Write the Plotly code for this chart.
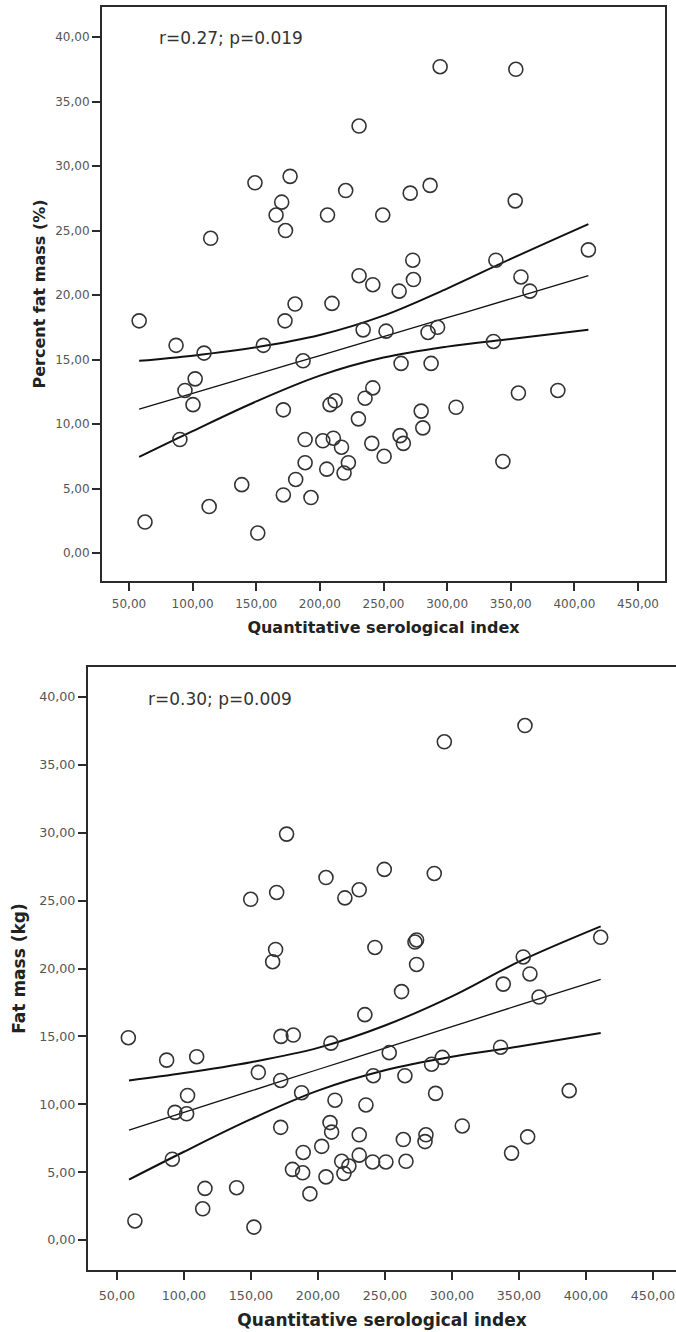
import plotly.graph_objects as go

# ---------------- data: top panel (Percent fat mass) ----------------
qsi_pct = [58, 62.6, 87, 90, 94, 102, 100.3, 109, 113, 114.2, 138.6, 151.2, 155.6, 149,
           165.6, 170, 173, 176.6, 172.6, 180.5, 206, 171.3, 186.8, 188.4, 188.4, 181,
           171.3, 193, 202.3, 210.6, 205.4, 208, 212, 217, 222.4, 219, 230.3, 235.5,
           241.6, 240.8, 250.5, 263, 265.6, 263.8, 287.4, 279.6, 280.9, 307, 343.8, 356,
           387, 336.4, 234, 252, 285, 292.5, 294.5, 354, 230.8, 220.3, 271, 286.6, 353.5,
           249.4, 273, 230.8, 241.6, 262.3, 273.5, 209.5, 338.3, 411, 358, 365]
pct_fat = [18.0, 2.4, 16.1, 8.8, 12.6, 13.5, 11.5, 15.5, 3.6, 24.4, 5.3, 1.55, 16.1, 28.7,
           26.2, 27.2, 25.0, 29.2, 18.0, 19.3, 26.2, 11.1, 14.9, 8.8, 7.0, 5.7,
           4.5, 4.3, 8.7, 8.9, 6.5, 11.5, 11.8, 8.2, 7.0, 6.2, 10.4, 12.0,
           12.8, 8.5, 7.5, 9.1, 8.5, 14.7, 14.7, 11.0, 9.7, 11.3, 7.1, 12.4,
           12.6, 16.4, 17.3, 17.2, 17.1, 17.5, 37.7, 37.5, 33.1, 28.1, 27.9, 28.5, 27.3,
           26.2, 22.7, 21.5, 20.8, 20.3, 21.2, 19.35, 22.7, 23.5, 21.4, 20.3]
curve_x_pct = [58, 100, 150, 200, 250, 300, 350, 411]
upper_pct = [14.9, 15.3, 15.95, 16.9, 18.4, 20.5, 22.8, 25.5]
fit_pct = [11.15, 12.38, 13.85, 15.31, 16.78, 18.24, 19.71, 21.5]
lower_pct = [7.45, 9.45, 11.75, 13.75, 15.15, 16.0, 16.6, 17.3]

# ---------------- data: bottom panel (Fat mass kg) ----------------
qsi_kg = [58.5, 63.4, 87.1, 109.5, 91.3, 93.3, 102, 102.7, 115.7, 114, 139.3, 152.2, 155.5,
          172.4, 181.6, 172.2, 172.2, 187.8, 209.7, 189, 202.8, 181, 188.6, 194, 206, 209,
          210.2, 212.7, 235, 253.2, 241.3, 264.9, 284.8, 292.8, 336.3, 235.8, 287.8, 387.5,
          307.7, 230.8, 263.7, 280.6, 279.9, 356.5, 344.5, 230.8, 217.7, 223.1, 219.4,
          240.8, 250.7, 265.7, 176.6, 149.8, 169.2, 206, 166.2, 168.4, 354.5, 294.3, 249.5,
          286.8, 230.8, 220.1, 272.4, 273.6, 242.5, 273.6, 262.4, 338.3, 353.2, 358.2, 411, 365]
fat_kg = [14.9, 1.4, 13.25, 13.5, 5.95, 9.4, 9.3, 10.65, 3.8, 2.3, 3.85, 0.95, 12.35,
          15.0, 15.1, 11.75, 8.3, 10.85, 14.5, 6.45, 6.9, 5.2, 4.95, 3.4, 4.65, 8.65,
          7.95, 10.3, 16.6, 13.8, 12.1, 12.1, 12.95, 13.45, 14.2, 9.95, 10.8, 11.0,
          8.4, 7.75, 7.4, 7.75, 7.25, 7.6, 6.4, 6.25, 5.8, 5.45, 4.9,
          5.75, 5.75, 5.8, 29.9, 25.1, 25.6, 26.7, 20.5, 21.4, 37.9, 36.7, 27.3,
          27.0, 25.8, 25.2, 21.95, 22.1, 21.55, 20.3, 18.3, 18.85, 20.85, 19.6, 22.3, 17.9]
curve_x_kg = [59, 100, 150, 200, 250, 300, 350, 411]
upper_kg = [11.75, 12.3, 13.1, 14.15, 15.8, 17.95, 20.5, 23.1]
fit_kg = [8.1, 9.4, 10.98, 12.56, 14.14, 15.72, 17.3, 19.2]
lower_kg = [4.45, 6.5, 8.9, 11.0, 12.5, 13.5, 14.25, 15.25]

tick_vals_y = [0, 5, 10, 15, 20, 25, 30, 35, 40]
tick_text_y = ["0,00", "5,00", "10,00", "15,00", "20,00", "25,00", "30,00", "35,00", "40,00"]
tick_vals_x = [50, 100, 150, 200, 250, 300, 350, 400, 450]
tick_text_x = ["50,00", "100,00", "150,00", "200,00", "250,00", "300,00", "350,00", "400,00", "450,00"]

W, H = 676, 1332
FONT = "DejaVu Sans"
INK = "#2b2b2b"
TICKC = "#555555"

fig = go.Figure()


def add_panel(xs, ys, cx, up, fit, lo, xa, ya):
    for yy, w in ((up, 2.0), (fit, 1.3), (lo, 2.0)):
        fig.add_trace(go.Scatter(x=cx, y=yy, mode="lines", line=dict(color="#111111", width=w, shape="spline"),
                                 xaxis=xa, yaxis=ya, showlegend=False, hoverinfo="skip"))
    fig.add_trace(go.Scatter(x=xs, y=ys, mode="markers",
                             marker=dict(symbol="circle-open", size=14, color="#333333",
                                         line=dict(color="#333333", width=1.6)),
                             xaxis=xa, yaxis=ya, showlegend=False))


add_panel(qsi_pct, pct_fat, curve_x_pct, upper_pct, fit_pct, lower_pct, "x", "y")
add_panel(qsi_kg, fat_kg, curve_x_kg, upper_kg, fit_kg, lower_kg, "x2", "y2")


def axis_common(size):
    return dict(showgrid=False, zeroline=False, showline=True, linecolor=INK, linewidth=2,
                ticks="outside", ticklen=8, tickwidth=2, tickcolor=INK,
                tickfont=dict(family=FONT, size=size, color=TICKC))


fig.update_layout(
    width=W, height=H, margin=dict(l=0, r=0, t=0, b=0),
    paper_bgcolor="white", plot_bgcolor="white", showlegend=False,
    xaxis=dict(**axis_common(12), domain=[102 / W, 665 / W], range=[28.8, 471.2], mirror=True,
               tickvals=tick_vals_x, ticktext=tick_text_x, anchor="y", ticklabelstandoff=3,
               title=dict(text="<b>Quantitative serological index</b>", standoff=11,
                          font=dict(family=FONT, size=16, color="#222222"))),
    yaxis=dict(**axis_common(12), domain=[1 - 581 / H, 1 - 7 / H], range=[-2.17, 42.33], mirror=True,
               tickvals=tick_vals_y, ticktext=tick_text_y, anchor="x",
               title=dict(text="<b>Percent fat mass (%)</b>", standoff=6,
                          font=dict(family=FONT, size=16, color="#222222"))),
    xaxis2=dict(**axis_common(12.7), domain=[88 / W, 1.0], range=[28.4, 467.2], mirror=True,
                tickvals=tick_vals_x, ticktext=tick_text_x, anchor="y2", ticklabelstandoff=5,
                title=dict(text="<b>Quantitative serological index</b>", standoff=12,
                           font=dict(family=FONT, size=17, color="#222222"))),
    yaxis2=dict(**axis_common(12.7), domain=[1 - 1270 / H, 1 - 667 / H], range=[-2.21, 42.21], mirror=False,
                tickvals=tick_vals_y, ticktext=tick_text_y, anchor="x2",
                title=dict(text="<b>Fat mass (kg)</b>", standoff=9,
                           font=dict(family=FONT, size=17, color="#222222"))),
    annotations=[
        dict(text="r=0.27; p=0.019", xref="paper", yref="paper", x=231 / W, y=1 - 38 / H,
             showarrow=False, font=dict(family=FONT, size=17, color="#333333"),
             xanchor="center", yanchor="middle"),
        dict(text="r=0.30; p=0.009", xref="paper", yref="paper", x=220 / W, y=1 - 699 / H,
             showarrow=False, font=dict(family=FONT, size=17, color="#333333"),
             xanchor="center", yanchor="middle"),
    ],
)

fig.write_html("out.html")
